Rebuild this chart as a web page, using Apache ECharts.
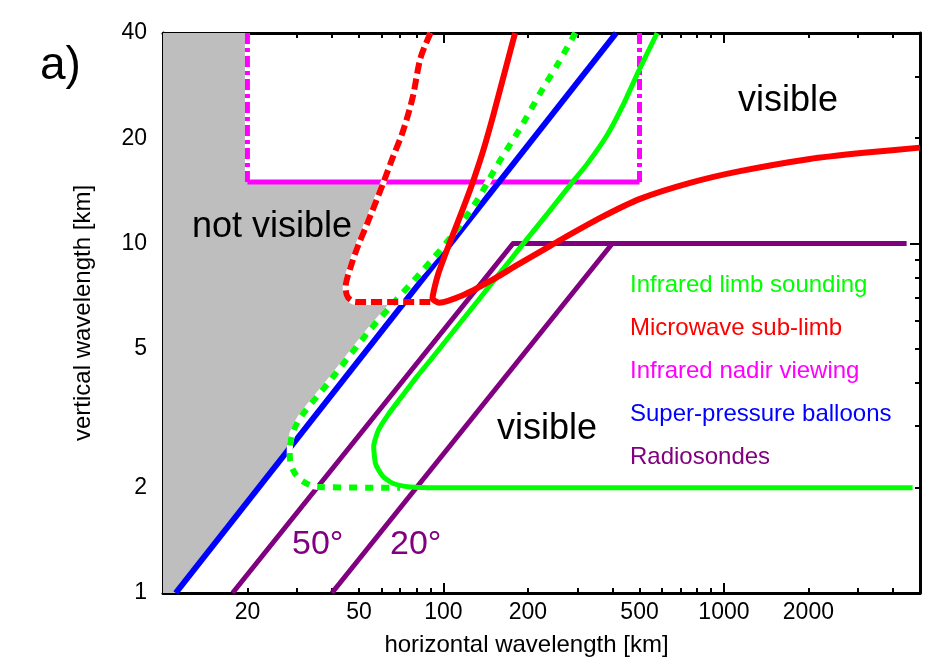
<!DOCTYPE html>
<html>
<head>
<meta charset="utf-8">
<script src="https://cdn.jsdelivr.net/npm/echarts@6/dist/echarts.min.js"></script>
<style>
html,body{margin:0;padding:0;background:#fff;}
#chart{width:931px;height:661px;}
</style>
</head>
<body>
<div id="chart"></div>
<script>
// ---------- tick labels / tick positions ----------
const xTickLabels = [20, 50, 100, 200, 500, 1000, 2000];
const yTickLabels = [1, 2, 5, 10, 20, 40];
const xMinorTicks = [20, 30, 40, 50, 60, 70, 80, 90, 200, 300, 400, 500, 600, 700, 800, 900, 2000, 3000, 4000];
const xMajorTicks = [100, 1000];
const yMinorTicks = [2, 3, 4, 5, 6, 7, 8, 9, 20, 30];
const yMajorTicks = [10];
const xRange = [10, 5000];
const yRange = [1, 40];

// ---------- series values: [horizontal wavelength km, vertical wavelength km] ----------
const balloons = [[11.1, 1], [413, 40]];
const radiosonde50 = [[17.7, 1], [177, 10], [4480, 10]];
const radiosonde20 = [[40, 1], [400, 10]];
const nadirLeft = [[20, 40], [20, 15]];
const nadirBase = [[20, 15], [500, 15]];
const nadirRight = [[500, 15], [500, 40]];
const microwaveSolid = [
  [180, 40], [164.2, 30.3], [150.6, 23.3], [138.2, 18.3], [127.3, 15.0], [118.8, 12.9],
  [112.2, 11.45], [102.9, 9.58], [96.0, 8.23], [92.5, 7.36], [91.4, 6.95], [96.5, 6.77],
  [117.8, 7.12], [147, 7.81], [183.4, 8.68], [227, 9.58], [261, 10.23], [362, 11.83],
  [502, 13.41], [757, 14.9], [1140, 16.1], [2023, 17.45], [3226, 18.2], [5000, 18.8]
];
const microwaveDashed = [
  [89.9, 40], [82.8, 33.9], [77.6, 26.1], [71.5, 20.8], [65.9, 17.6], [61.2, 15.0],
  [53.6, 11.45], [49.4, 9.77], [46.7, 8.57], [44.8, 7.51], [45.5, 7.03], [48.6, 6.8], [92, 6.8]
];
const limbSolid = [
  [577.6, 40], [502.5, 31.78], [437, 24.91], [383.4, 20.43], [325.5, 16.89], [283.1, 14.71],
  [234.5, 12.15], [204, 10.58], [173.1, 8.97], [147, 7.61], [124.8, 6.45], [105.9, 5.47],
  [89.9, 4.64], [80.8, 4.18], [70.3, 3.61], [63.7, 3.25], [58.7, 2.93], [56.4, 2.63],
  [57.3, 2.34], [60.7, 2.16], [65.9, 2.06], [76.3, 2.01], [95.2, 2.0], [4706, 2.0]
];
const limbDashed = [
  [295, 40], [254.5, 32.4], [227, 27.9], [188, 21.4], [153, 16.4], [132, 13.3],
  [106, 10.4], [82.8, 8.23], [66.4, 6.76], [53.6, 5.55], [39.6, 4.07], [31.0, 3.19],
  [29.0, 2.87], [28.3, 2.57], [28.5, 2.35], [30.5, 2.13], [35.6, 2.01], [70, 2.0]
];
const notVisibleBoundary = [
  [10, 40], [20, 40], [20, 15], [61.2, 15], [53.6, 11.45], [49.4, 9.77], [46.7, 8.57],
  [44.8, 7.51], [45.5, 7.03], [48.6, 6.8], [66, 6.8], [53.6, 5.55], [39.6, 4.07],
  [31.0, 3.19], [29.0, 2.87], [28.2, 2.6], [11.1, 1], [10, 1]
];
const legendNames = ['Infrared limb sounding', 'Microwave sub-limb', 'Infrared nadir viewing', 'Super-pressure balloons', 'Radiosondes'];

// ---------- styling ----------
const FONT = '"Liberation Sans", Arial, Helvetica, sans-serif';
const GREEN = '#00ff00', RED = '#ff0000', MAGENTA = '#ff00ff', BLUE = '#0000ff', PURPLE = '#800080', GRAY = '#bebebe';
const legendColors = [GREEN, RED, MAGENTA, BLUE, PURPLE];

function fmt(v) { return String(Math.round(v)); }

function makeAxis(dim, position, range, ticks, tickLen, withLine, labels, name) {
  const a = {
    type: 'log', logBase: 10, min: range[0], max: range[1], position: position, gridIndex: 0,
    axisLine: { show: withLine, onZero: false, lineStyle: { color: '#000', width: 3 } },
    axisTick: { show: true, inside: true, length: tickLen, customValues: ticks, lineStyle: { color: '#000', width: 2 } },
    axisLabel: { show: false },
    splitLine: { show: false },
    minorTick: { show: false },
    minorSplitLine: { show: false }
  };
  if (labels) {
    a.axisLabel = {
      show: true, customValues: labels, formatter: fmt, color: '#000',
      fontSize: 23, fontFamily: FONT, margin: dim === 'x' ? 8 : 16, hideOverlap: false
    };
  }
  if (name) {
    a.name = name;
    a.nameLocation = 'middle';
    a.nameGap = dim === 'x' ? 40 : 68;
    a.nameTextStyle = { color: '#000', fontSize: 24, fontFamily: FONT, padding: dim === 'x' ? [0, 30, 0, 0] : 0 };
  }
  return a;
}

function line(name, data, color, width, type, z, smooth) {
  return {
    type: 'line', name: name, data: data, xAxisIndex: 0, yAxisIndex: 0,
    showSymbol: false, symbol: 'none', smooth: smooth || false, z: z, silent: true,
    lineStyle: { color: color, width: width, type: type, cap: 'butt', join: 'round' },
    itemStyle: { color: color }, emphasis: { disabled: true }, clip: true
  };
}

const option = {
  animation: false,
  backgroundColor: '#fff',
  grid: { left: 163, top: 33, right: 11, bottom: 68, containLabel: false, outerBoundsMode: 'none' },
  xAxis: [
    makeAxis('x', 'bottom', xRange, xMinorTicks, 5, true, xTickLabels, 'horizontal wavelength [km]'),
    makeAxis('x', 'bottom', xRange, xMajorTicks, 10, false, null, null),
    makeAxis('x', 'top', xRange, xMinorTicks, 5, true, null, null),
    makeAxis('x', 'top', xRange, xMajorTicks, 10, false, null, null)
  ],
  yAxis: [
    makeAxis('y', 'left', yRange, yMinorTicks, 5, true, yTickLabels, 'vertical wavelength [km]'),
    makeAxis('y', 'left', yRange, yMajorTicks, 10, false, null, null),
    makeAxis('y', 'right', yRange, yMinorTicks, 5, true, null, null),
    makeAxis('y', 'right', yRange, yMajorTicks, 10, false, null, null)
  ],
  legend: {
    show: true, orient: 'vertical', left: 625, top: 273, padding: 0,
    itemGap: 19, itemWidth: 0, itemHeight: 24, icon: 'none', selectedMode: false,
    data: legendNames.map((n, i) => ({ name: n, textStyle: { color: legendColors[i] } })),
    textStyle: { fontSize: 24, fontFamily: FONT, lineHeight: 24 }
  },
  graphic: [
    { type: 'text', x: 40, y: 66, z: 100, style: { text: 'a)', fill: '#000', fontSize: 46, fontFamily: FONT, align: 'left', verticalAlign: 'middle' } },
    { type: 'text', x: 192, y: 227, z: 100, style: { text: 'not visible', fill: '#000', fontSize: 36, fontFamily: FONT, align: 'left', verticalAlign: 'middle' } },
    { type: 'text', x: 738, y: 101, z: 100, style: { text: 'visible', fill: '#000', fontSize: 36, fontFamily: FONT, align: 'left', verticalAlign: 'middle' } },
    { type: 'text', x: 497, y: 429, z: 100, style: { text: 'visible', fill: '#000', fontSize: 36, fontFamily: FONT, align: 'left', verticalAlign: 'middle' } },
    { type: 'text', x: 292, y: 545, z: 100, style: { text: '50°', fill: PURPLE, fontSize: 34, fontFamily: FONT, align: 'left', verticalAlign: 'middle' } },
    { type: 'text', x: 390, y: 545, z: 100, style: { text: '20°', fill: PURPLE, fontSize: 34, fontFamily: FONT, align: 'left', verticalAlign: 'middle' } }
  ],
  series: [
    {
      type: 'custom', name: 'not visible', xAxisIndex: 0, yAxisIndex: 0, z: 1, silent: true, clip: true,
      data: notVisibleBoundary,
      renderItem: function (params, api) {
        if (params.dataIndex !== 0) return null;
        return {
          type: 'polygon',
          shape: { points: notVisibleBoundary.map(p => api.coord(p)) },
          style: { fill: GRAY, stroke: null }
        };
      }
    },
    line('_nadirLeftBg', nadirLeft, '#ffffff', 5, 'solid', 2),
    line('Infrared nadir viewing', nadirLeft, MAGENTA, 5, [11, 4, 4, 4], 3),
    line('Infrared nadir viewing', nadirBase, MAGENTA, 5, 'solid', 3),
    line('_nadirRightBg', nadirRight, '#ffffff', 5, 'solid', 2),
    line('Infrared nadir viewing', nadirRight, MAGENTA, 5, [11, 4, 4, 4], 3),
    line('Radiosondes', radiosonde50, PURPLE, 5, 'solid', 4),
    line('Radiosondes', radiosonde20, PURPLE, 5, 'solid', 4),
    line('Super-pressure balloons', balloons, BLUE, 6, 'solid', 5),
    line('_limbDashedBg', limbDashed, '#ffffff', 6, 'solid', 6, 0.3),
    line('Infrared limb sounding', limbDashed, GREEN, 6, [8, 8], 7, 0.3),
    line('Infrared limb sounding', limbSolid, GREEN, 5, 'solid', 8, 0.2),
    line('_microwaveDashedBg', microwaveDashed, '#ffffff', 6, 'solid', 9, 0.3),
    line('Microwave sub-limb', microwaveDashed, RED, 6, [11, 5], 10, 0.3),
    line('Microwave sub-limb', microwaveSolid, RED, 6, 'solid', 11, 0.2)
  ]
};

const chart = echarts.init(document.getElementById('chart'), null, { renderer: 'canvas' });
chart.setOption(option);
</script>
</body>
</html>
